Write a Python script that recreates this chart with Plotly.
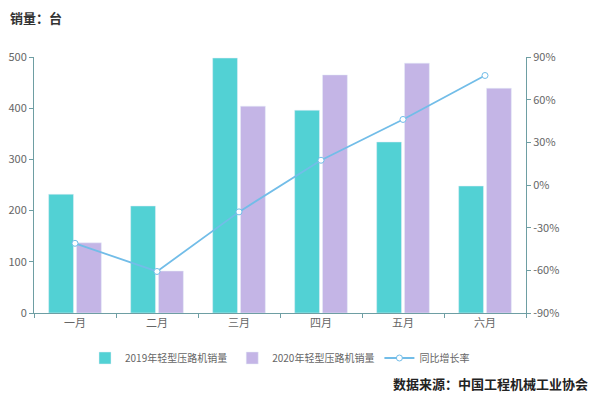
import plotly.graph_objects as go

months = ["一月", "二月", "三月", "四月", "五月", "六月"]
sales_2019 = [232, 209, 498, 396, 334, 248]
sales_2020 = [137, 82, 404, 465, 488, 439]
growth = [-41.0, -60.8, -18.9, 17.4, 46.1, 77.0]

y1_ticks = [0, 100, 200, 300, 400, 500]
y2_ticks = [-90, -60, -30, 0, 30, 60, 90]
y2_labels = [f"{v}%" for v in y2_ticks]

font_cjk = "Noto Sans CJK SC, Noto Sans, sans-serif"
axis_color = "#6e9ea3"
tick_font = dict(size=11, color="#666666", family=font_cjk)

fig = go.Figure()
fig.add_trace(go.Bar(x=months, y=sales_2019, name="2019年轻型压路机销量",
                     marker_color="#52d1d4", yaxis="y"))
fig.add_trace(go.Bar(x=months, y=sales_2020, name="2020年轻型压路机销量",
                     marker_color="#c4b5e6", yaxis="y"))
fig.add_trace(go.Scatter(x=months, y=growth, name="同比增长率", yaxis="y2",
                         mode="lines+markers",
                         line=dict(color="#72bde8", width=1.8),
                         marker=dict(symbol="circle", size=6, color="white",
                                     line=dict(color="#72bde8", width=1))))

W, H = 600, 396
L, R, T, B = 34, 74, 57, 83
pw = W - L - R
ph = H - T - B

fig.update_layout(
    width=W, height=H,
    margin=dict(l=L, r=R, t=T, b=B, autoexpand=False),
    plot_bgcolor="white", paper_bgcolor="white",
    bargap=0.32, bargroupgap=0.11,
    font=dict(family=font_cjk, color="#666666"),
    showlegend=True,
    legend=dict(orientation="h", x=0.5, xanchor="center",
                yref="container", y=1 - 358 / H, yanchor="middle",
                font=dict(size=10, color="#666666", family=font_cjk),
                itemwidth=30, traceorder="normal", tracegroupgap=0),
    xaxis=dict(showline=True, linecolor=axis_color, linewidth=1, automargin=False,
               ticks="outside", tickson="boundaries", ticklen=4, tickcolor=axis_color,
               tickfont=tick_font, showgrid=False),
    yaxis=dict(range=[0, 500], tickvals=y1_ticks, showline=True, linecolor=axis_color,
               automargin=False,
               ticks="outside", ticklen=4, tickcolor=axis_color, tickfont=tick_font,
               showgrid=False, zeroline=False),
    yaxis2=dict(range=[-90, 90], tickvals=y2_ticks, ticktext=y2_labels, automargin=False,
                overlaying="y", side="right", showline=True, linecolor=axis_color,
                ticks="outside", ticklen=4, tickcolor=axis_color, tickfont=tick_font,
                showgrid=False, zeroline=False),
    annotations=[
        dict(text="<b>销量：台</b>", xref="paper", yref="paper", showarrow=False,
             x=(8 - L) / pw, y=(H - B - 17) / ph, xanchor="left", yanchor="middle",
             font=dict(size=13, color="#333333", family=font_cjk)),
        dict(text="<b>数据来源：中国工程机械工业协会</b>", xref="paper", yref="paper",
             showarrow=False,
             x=(590 - L) / pw, y=(H - B - 383) / ph, xanchor="right", yanchor="middle",
             font=dict(size=13, color="#222222", family=font_cjk)),
    ],
)

fig.write_html("out.html", config={"displayModeBar": False},
               post_script="document.body.style.margin='0';document.body.style.overflow='hidden';")
